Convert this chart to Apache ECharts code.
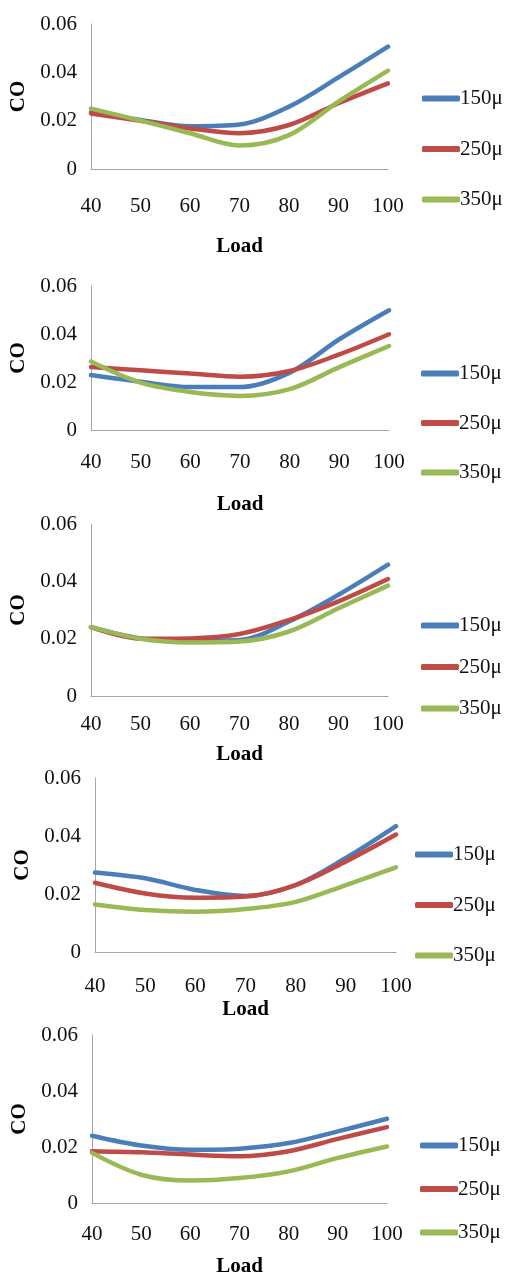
<!DOCTYPE html>
<html>
<head>
<meta charset="utf-8">
<script src="https://cdn.jsdelivr.net/npm/echarts@6/dist/echarts.min.js"></script>
<style>
  html, body { margin: 0; padding: 0; background: #fff; }
  #chart { width: 510px; height: 1281px; }
</style>
</head>
<body>
<div id="chart"></div>
<script>
// x values (Load) and series names
const loads = [40, 50, 60, 70, 80, 90, 100];
const names = ['150μ', '250μ', '350μ'];

// CO values, top to bottom
const co1_150 = [0.0235, 0.0203, 0.0177, 0.0184, 0.0258, 0.0379, 0.0506];
const co1_250 = [0.0230, 0.0200, 0.0168, 0.0148, 0.0182, 0.0272, 0.0354];
const co1_350 = [0.0250, 0.0200, 0.0148, 0.0097, 0.0140, 0.0279, 0.0407];

const co2_150 = [0.0229, 0.0201, 0.0179, 0.0179, 0.0239, 0.0378, 0.0499];
const co2_250 = [0.0262, 0.0249, 0.0235, 0.0222, 0.0246, 0.0315, 0.0399];
const co2_350 = [0.0285, 0.0197, 0.0158, 0.0142, 0.0170, 0.0262, 0.0350];

const co3_150 = [0.0240, 0.0201, 0.0192, 0.0195, 0.0260, 0.0353, 0.0458];
const co3_250 = [0.0240, 0.0200, 0.0201, 0.0216, 0.0265, 0.0330, 0.0408];
const co3_350 = [0.0240, 0.0200, 0.0187, 0.0190, 0.0225, 0.0306, 0.0385];

const co4_150 = [0.0274, 0.0254, 0.0214, 0.0193, 0.0231, 0.0324, 0.0434];
const co4_250 = [0.0239, 0.0202, 0.0187, 0.0191, 0.0231, 0.0312, 0.0405];
const co4_350 = [0.0164, 0.0145, 0.0139, 0.0148, 0.0173, 0.0231, 0.0292];

const co5_150 = [0.0240, 0.0205, 0.0190, 0.0194, 0.0214, 0.0256, 0.0301];
const co5_250 = [0.0185, 0.0181, 0.0173, 0.0167, 0.0185, 0.0229, 0.0271];
const co5_350 = [0.0179, 0.0101, 0.0080, 0.0089, 0.0113, 0.0161, 0.0202];

const panels = [
  [co1_150, co1_250, co1_350],
  [co2_150, co2_250, co2_350],
  [co3_150, co3_250, co3_350],
  [co4_150, co4_250, co4_350],
  [co5_150, co5_250, co5_350]
];

const colors = ['#4a7ebb', '#be4b48', '#98b954'];

// layout of each panel: grid box, label gaps, legend position
const layout = [
  { left: 91, top: 24,   width: 297, height: 145, lblGap: 27, nameGap: 67, coGap: 52, lgLeft: 422, lgTop: 88,   lgGap: 29.5 },
  { left: 91, top: 286,  width: 298, height: 144, lblGap: 22, nameGap: 64, coGap: 52, lgLeft: 421, lgTop: 363,  lgGap: 28.5 },
  { left: 91, top: 524,  width: 297, height: 172, lblGap: 18, nameGap: 48, coGap: 52, lgLeft: 421, lgTop: 615,  lgGap: 20.5 },
  { left: 95, top: 778,  width: 301, height: 174, lblGap: 24, nameGap: 47, coGap: 56, lgLeft: 415, lgTop: 844,  lgGap: 29.5 },
  { left: 92, top: 1035, width: 295, height: 168, lblGap: 21, nameGap: 53, coGap: 52, lgLeft: 420, lgTop: 1135, lgGap: 22.5 }
];

const serif = '"Liberation Serif", "Times New Roman", serif';
const axisColor = '#a6a6a6';

const grid = [], xAxis = [], yAxis = [], legend = [], series = [];

layout.forEach((g, i) => {
  grid.push({ left: g.left, top: g.top, width: g.width, height: g.height, containLabel: false });
  xAxis.push({
    type: 'value', gridIndex: i, min: 40, max: 100, interval: 10,
    name: 'Load', nameLocation: 'middle', nameGap: g.nameGap,
    nameTextStyle: { fontFamily: serif, fontWeight: 'bold', fontSize: 21, color: '#000' },
    axisLine: { show: true, lineStyle: { color: axisColor, width: 1 } },
    axisTick: { show: false },
    splitLine: { show: false },
    axisLabel: { fontFamily: serif, fontSize: 21, color: '#111', margin: g.lblGap }
  });
  yAxis.push({
    type: 'value', gridIndex: i, min: 0, max: 0.06, interval: 0.02,
    name: 'CO', nameLocation: 'middle', nameGap: g.coGap,
    nameTextStyle: { fontFamily: serif, fontWeight: 'bold', fontSize: 21, color: '#000' },
    axisLine: { show: true, lineStyle: { color: axisColor, width: 1 } },
    axisTick: { show: false },
    splitLine: { show: false },
    axisLabel: { fontFamily: serif, fontSize: 21, color: '#111', margin: 14 }
  });
  legend.push({
    orient: 'vertical', left: g.lgLeft, top: g.lgTop, padding: 0,
    itemGap: g.lgGap, itemWidth: 38, itemHeight: 6,
    icon: 'roundRect', selectedMode: false,
    data: names,
    textStyle: { fontFamily: serif, fontSize: 21, color: '#111', lineHeight: 21, padding: [0, 0, 0, -5] }
  });
  panels[i].forEach((vals, k) => {
    series.push({
      name: names[k], type: 'line', xAxisIndex: i, yAxisIndex: i,
      data: loads.map((x, j) => [x, vals[j]]),
      smooth: 0.33, showSymbol: false, symbol: 'none',
      lineStyle: { width: 4.5, color: colors[k], cap: 'round' },
      itemStyle: { color: colors[k] }
    });
  });
});

const chart = echarts.init(document.getElementById('chart'), null, { renderer: 'canvas' });
chart.setOption({
  animation: false,
  backgroundColor: '#fff',
  grid, xAxis, yAxis, legend, series
});
</script>
</body>
</html>
